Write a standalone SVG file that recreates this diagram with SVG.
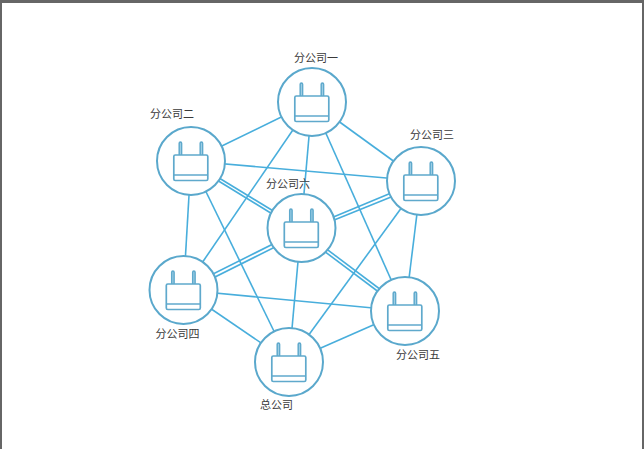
<svg xmlns="http://www.w3.org/2000/svg" width="644" height="449" viewBox="0 0 644 449">
<style>
.e{stroke:#48aedc;stroke-width:1.6;fill:none}
.c{fill:#fff;stroke:#5aa8cc;stroke-width:2}
.r{fill:#fff;stroke:#5fa9cc;stroke-width:1.7}
.a{fill:#a9d5ea;stroke:#5fa9cc;stroke-width:1.5}
.l{stroke:#5fa9cc;stroke-width:1.7}
text{font-family:"Noto Sans CJK SC","Liberation Sans",sans-serif;font-size:11px;fill:#3a3a3a;text-anchor:middle}
</style>
<defs>
<g id="router">
<circle class="c" r="34"/>
<rect class="a" x="-11.8" y="-19" width="2.4" height="14" rx="1.2"/>
<rect class="a" x="9.2" y="-19" width="2.4" height="14" rx="1.2"/>
<rect class="r" x="-17.2" y="-6" width="34" height="25.5" rx="1.5"/>
<line class="l" x1="-17.2" y1="14" x2="16.8" y2="14"/>
</g>
</defs>
<rect width="644" height="449" fill="#fff"/>
<path d="M0 0H644V449H642V3H2V449H0Z" fill="#666"/>
<g id="connectors">
<line class="e" x1="312" y1="102" x2="191" y2="161"/>
<line class="e" x1="312" y1="102" x2="421" y2="181"/>
<line class="e" x1="312" y1="102" x2="301" y2="228"/>
<line class="e" x1="312" y1="102" x2="183.5" y2="290"/>
<line class="e" x1="312" y1="102" x2="405" y2="311"/>
<line class="e" x1="191" y1="161" x2="421" y2="181"/>
<line class="e" x1="191" y1="161" x2="183.5" y2="290"/>
<line class="e" x1="191" y1="161" x2="289" y2="362"/>
<line class="e" x1="421" y1="181" x2="405" y2="311"/>
<line class="e" x1="421" y1="181" x2="289" y2="362"/>
<line class="e" x1="301" y1="228" x2="289" y2="362"/>
<line class="e" x1="183.5" y1="290" x2="405" y2="311"/>
<line class="e" x1="183.5" y1="290" x2="289" y2="362"/>
<line class="e" x1="405" y1="311" x2="289" y2="362"/>
<line class="e" x1="190" y1="163.5" x2="300" y2="231"/>
<line class="e" x1="192" y1="161.5" x2="302" y2="228.5"/>
<line class="e" x1="420" y1="181" x2="301" y2="230.5"/>
<line class="e" x1="422" y1="184.5" x2="302" y2="233"/>
<line class="e" x1="301" y1="230" x2="183" y2="289"/>
<line class="e" x1="302" y1="233.5" x2="185" y2="292"/>
<line class="e" x1="301" y1="229.8" x2="405" y2="308"/>
<line class="e" x1="300" y1="233" x2="404" y2="311"/>
</g>
<g id="node-1"><use href="#router" x="312" y="102"/><text x="316" y="62">分公司一</text></g>
<g id="node-2"><use href="#router" x="191" y="161"/><text x="172" y="118">分公司二</text></g>
<g id="node-3"><use href="#router" x="421" y="181"/><text x="432" y="139">分公司三</text></g>
<g id="node-4"><use href="#router" x="183.5" y="290"/><text x="177.500" y="338">分公司四</text></g>
<g id="node-5"><use href="#router" x="405" y="311"/><text x="418" y="359">分公司五</text></g>
<g id="node-6"><use href="#router" x="301.500" y="228"/><text x="288" y="188">分公司六</text></g>
<g id="node-0"><use href="#router" x="289" y="362"/><text x="276.500" y="409">总公司</text></g>
</svg>
